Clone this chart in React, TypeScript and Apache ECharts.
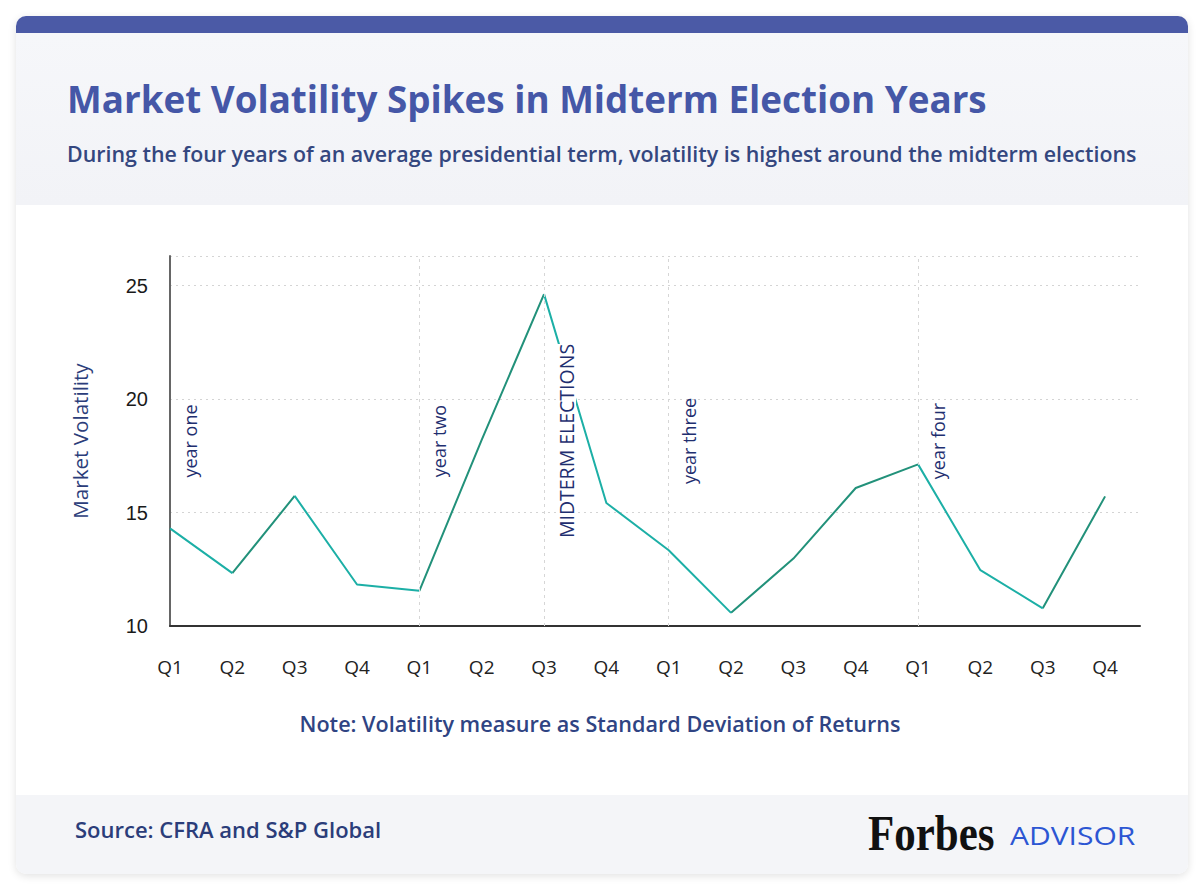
import React, { useEffect, useRef } from "react";
import * as echarts from "echarts";

const quarters = ["Q1", "Q2", "Q3", "Q4", "Q1", "Q2", "Q3", "Q4", "Q1", "Q2", "Q3", "Q4", "Q1", "Q2", "Q3", "Q4"];
const volatility = [14.3, 12.33, 15.73, 11.83, 11.55, 18.2, 24.62, 15.42, 13.34, 10.58, 12.97, 16.08, 17.12, 12.46, 10.78, 15.71];
const yearMarkers = [
  { at: 0, name: "year one" },
  { at: 4, name: "year two" },
  { at: 6, name: "MIDTERM ELECTIONS" },
  { at: 8, name: "year three" },
  { at: 12, name: "year four" },
];
const yTicks = [10, 15, 20, 25];

const TITLE = "Market Volatility Spikes in Midterm Election Years";
const SUBTITLE = "During the four years of an average presidential term, volatility is highest around the midterm elections";
const NOTE = "Note: Volatility measure as Standard Deviation of Returns";
const SOURCE = "Source: CFRA and S&P Global";

const FONT = "Open Sans";
const NAVY = "#2b3d7a";

// split the single series into rising and falling stretches (same data, two strokes)
function stretches(rising: boolean) {
  const out: any[] = [];
  let last = -1;
  for (let i = 0; i < volatility.length - 1; i++) {
    const up = volatility[i + 1] > volatility[i];
    if (up !== rising) continue;
    if (last !== i) {
      if (out.length) out.push([i - 0.5, "-"]);
      out.push([i, volatility[i]]);
    }
    out.push([i + 1, volatility[i + 1]]);
    last = i + 1;
  }
  return out;
}

export default function App() {
  const ref = useRef<HTMLDivElement>(null);
  useEffect(() => {
    document.body.style.margin = "0";
    const chart = echarts.init(ref.current!, null, { renderer: "svg" });
    chart.setOption({
      animation: false,
      backgroundColor: "transparent",
      textStyle: { fontFamily: FONT },
      title: [
        {
          text: TITLE,
          left: 62,
          top: 75,
          textStyle: { fontFamily: FONT, fontSize: 36.8, fontWeight: 700, color: "#4557a7" },
        },
        {
          text: SUBTITLE,
          left: 62,
          top: 138,
          textStyle: { fontFamily: FONT, fontSize: 21.4, fontWeight: 600, color: "#34477f" },
        },
      ],
      grid: { left: 170, right: 60, top: 256, bottom: 264 },
      xAxis: {
        type: "value",
        min: 0,
        max: 15.56,
        interval: 1,
        axisLine: { show: true, lineStyle: { color: "#333", width: 2 } },
        axisTick: { show: false },
        splitLine: { show: false },
        axisLabel: {
          margin: 31,
          fontSize: 19,
          color: "#222",
          fontFamily: FONT,
          formatter: (v: number) => (Number.isInteger(v) && quarters[v] ? quarters[v] : ""),
        },
      },
      yAxis: {
        type: "value",
        min: 10,
        max: 26.3,
        interval: 5,
        name: "Market Volatility",
        nameLocation: "middle",
        nameGap: 80,
        nameTextStyle: { fontSize: 20.6, color: NAVY, fontFamily: FONT },
        axisLine: { show: true, lineStyle: { color: "#666", width: 2 } },
        axisTick: { show: false },
        splitLine: { show: true, lineStyle: { color: "#d4d4d4", type: [2, 4], width: 1 } },
        axisLabel: {
          margin: 22,
          fontSize: 20,
          color: "#1a1a1a",
          fontFamily: "Liberation Sans",
          formatter: (v: number) => (yTicks.includes(v) ? String(v) : ""),
        },
      },
      series: [
        {
          name: "rising",
          type: "line",
          data: stretches(true),
          showSymbol: false,
          symbol: "none",
          connectNulls: false,
          lineStyle: { color: "#22917a", width: 2 },
          z: 2,
        },
        {
          name: "falling",
          type: "line",
          data: stretches(false),
          showSymbol: false,
          symbol: "none",
          connectNulls: false,
          lineStyle: { color: "#1cafa6", width: 2 },
          z: 2,
          markLine: {
            silent: true,
            symbol: "none",
            z: 5,
            lineStyle: { color: "#d6d6d6", type: [3, 4], width: 1 },
            data: yearMarkers.map((m) => ({
              name: m.name,
              xAxis: m.at,
              lineStyle: m.at === 0 ? { color: "rgba(0,0,0,0)" } : undefined,
              label:
                m.at === 6
                  ? {
                      show: true,
                      formatter: m.name,
                      position: "insideMiddleBottom",
                      distance: 13,
                      fontSize: 19.5,
                      lineHeight: 19,
                      fontFamily: FONT,
                      color: "#1f2f70",
                      backgroundColor: "#ffffff",
                      padding: 0,
                    }
                  : {
                      show: true,
                      formatter: m.name,
                      position: "insideMiddleBottom",
                      distance: 11,
                      fontSize: 18,
                      fontFamily: FONT,
                      color: "#1f2f70",
                    },
            })),
          },
        },
      ],
      graphic: [
        {
          type: "text",
          left: "center",
          top: 712,
          style: { text: NOTE, fontSize: 21.6, fontWeight: 600, fill: "#2f4483", fontFamily: FONT },
        },
        {
          type: "text",
          left: 75,
          top: 818,
          style: { text: SOURCE, fontSize: 22, fontWeight: 600, fill: "#2b3d7a", fontFamily: FONT },
        },
        {
          type: "text",
          x: 868,
          y: 808,
          scaleX: 0.86,
          style: { text: "Forbes", fontSize: 50, fontWeight: 900, fill: "#111", fontFamily: "Liberation Serif" },
        },
        {
          type: "text",
          x: 1010,
          y: 823,
          scaleX: 1.2,
          style: { text: "ADVISOR", fontSize: 25, fontWeight: 400, fill: "#2c56d3", fontFamily: "Open Sans" },
        },
      ],
    });
    return () => chart.dispose();
  }, []);

  return (
    <div style={{ position: "relative", width: 1200, height: 890, background: "#fff", overflow: "hidden" }}>
      <div
        style={{
          position: "absolute",
          left: 16,
          top: 16,
          width: 1172,
          height: 858,
          borderRadius: 10,
          overflow: "hidden",
          background: "#fff",
          boxShadow: "0 2px 8px rgba(0,0,0,0.12)",
        }}
      >
        <div style={{ position: "absolute", left: 0, top: 0, width: "100%", height: 17, background: "#4b5aa6" }} />
        <div
          style={{
            position: "absolute",
            left: 0,
            top: 17,
            width: "100%",
            height: 172,
            background: "linear-gradient(180deg, #f6f7fa 0%, #f2f3f7 100%)",
          }}
        />
        <div
          style={{ position: "absolute", left: 0, top: 779, width: "100%", height: 79, background: "#f4f5f8" }}
        />
      </div>
      <div ref={ref} style={{ position: "absolute", left: 0, top: 0, width: 1200, height: 890 }} />
    </div>
  );
}
